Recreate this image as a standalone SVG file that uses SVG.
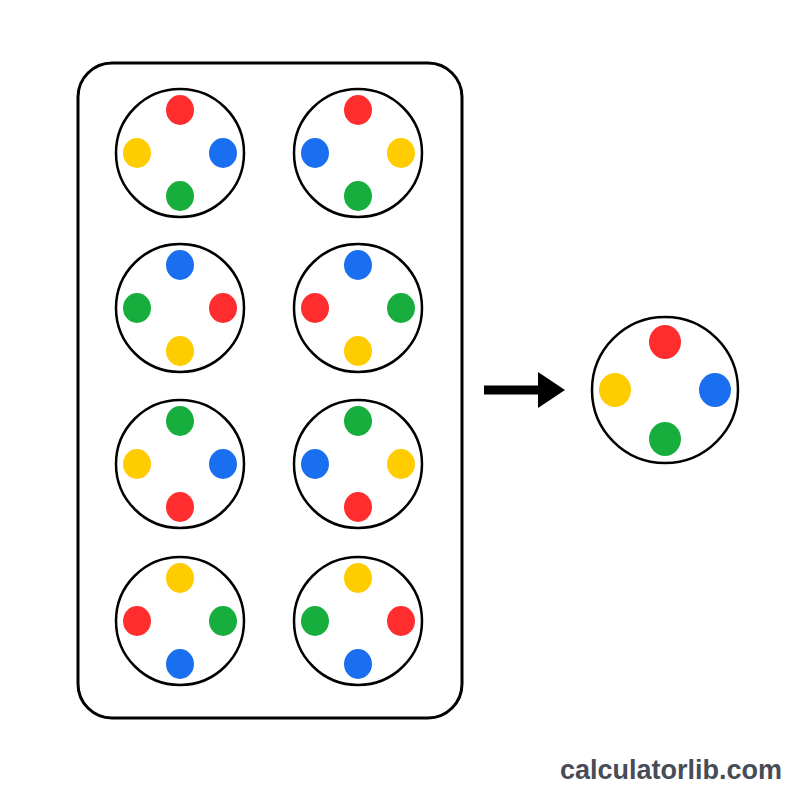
<svg xmlns="http://www.w3.org/2000/svg" width="800" height="800" viewBox="0 0 800 800">
<style>
.plate{fill:#fff;stroke:#000;stroke-width:3}
.ring{fill:#fff;stroke:#000;stroke-width:2.5}
.r{fill:#FF2D2D}.y{fill:#FFCC00}.b{fill:#1A6FF0}.g{fill:#17AE3E}
.wm{font-family:"Liberation Sans",Arial,sans-serif;font-weight:bold;font-size:27px;fill:#474c57}
</style>
<defs>
<ellipse id="d" rx="14" ry="15"/>
</defs>
<rect width="800" height="800" fill="#fff"/>
<rect class="plate" x="78" y="63" width="384" height="655" rx="34"/>
<g id="c1" transform="translate(180,153)"><circle class="ring" r="64"/><use href="#d" class="r" y="-43"/><use href="#d" class="y" x="-43"/><use href="#d" class="b" x="43"/><use href="#d" class="g" y="43"/></g>
<g id="c2" transform="translate(358,153)"><circle class="ring" r="64"/><use href="#d" class="r" y="-43"/><use href="#d" class="b" x="-43"/><use href="#d" class="y" x="43"/><use href="#d" class="g" y="43"/></g>
<g id="c3" transform="translate(180,308)"><circle class="ring" r="64"/><use href="#d" class="b" y="-43"/><use href="#d" class="g" x="-43"/><use href="#d" class="r" x="43"/><use href="#d" class="y" y="43"/></g>
<g id="c4" transform="translate(358,308)"><circle class="ring" r="64"/><use href="#d" class="b" y="-43"/><use href="#d" class="r" x="-43"/><use href="#d" class="g" x="43"/><use href="#d" class="y" y="43"/></g>
<g id="c5" transform="translate(180,464)"><circle class="ring" r="64"/><use href="#d" class="g" y="-43"/><use href="#d" class="y" x="-43"/><use href="#d" class="b" x="43"/><use href="#d" class="r" y="43"/></g>
<g id="c6" transform="translate(358,464)"><circle class="ring" r="64"/><use href="#d" class="g" y="-43"/><use href="#d" class="b" x="-43"/><use href="#d" class="y" x="43"/><use href="#d" class="r" y="43"/></g>
<g id="c7" transform="translate(180,621)"><circle class="ring" r="64"/><use href="#d" class="y" y="-43"/><use href="#d" class="r" x="-43"/><use href="#d" class="g" x="43"/><use href="#d" class="b" y="43"/></g>
<g id="c8" transform="translate(358,621)"><circle class="ring" r="64"/><use href="#d" class="y" y="-43"/><use href="#d" class="g" x="-43"/><use href="#d" class="r" x="43"/><use href="#d" class="b" y="43"/></g>
<g id="connectors">
<path d="M484 385.5 H538 V372 L565 390 L538 408 V394.5 H484 Z" fill="#000"/>
</g>
<g id="result" transform="translate(665,390)"><circle class="ring" r="73"/><ellipse class="r" cy="-48" rx="16" ry="17"/><ellipse class="y" cx="-50" rx="16" ry="17"/><ellipse class="b" cx="50" rx="16" ry="17"/><ellipse class="g" cy="49" rx="16" ry="17"/></g>
<text class="wm" x="782" y="779" text-anchor="end">calculatorlib.com</text>
</svg>
